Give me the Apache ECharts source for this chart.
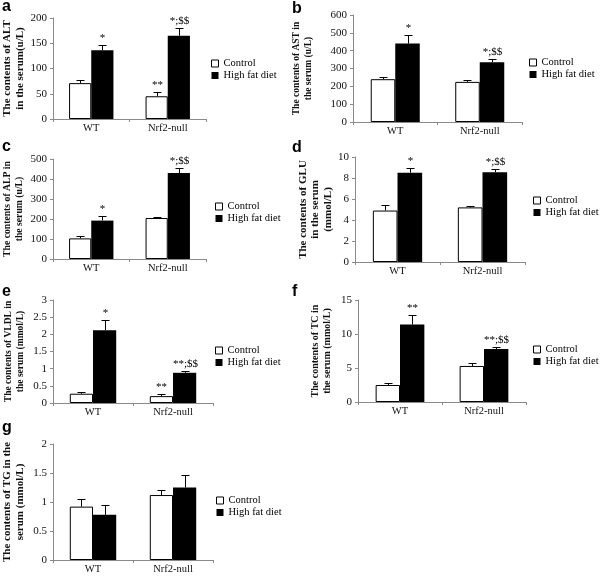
<!DOCTYPE html>
<html><head><meta charset="utf-8">
<script src="https://cdn.jsdelivr.net/npm/echarts@6/dist/echarts.min.js"></script>
<style>html,body{margin:0;padding:0;background:#fff}#c{width:600px;height:577px}</style>
</head><body><div id="c"></div>
<script>
// ---------- DATA ----------
const categories = ['WT', 'Nrf2-null'];
const seriesNames = ['Control', 'High fat diet'];

// a: ALT (u/L)
const altTicks = [0, 50, 100, 150, 200];
const altControl = [71, 45];    const altControlErr = [78, 53];
const altHFD = [136, 165];      const altHFDErr = [146, 181];
const altControlMarks = ['', '**']; const altHFDMarks = ['*', '*;$$'];

// b: AST (u/L)
const astTicks = [0, 100, 200, 300, 400, 500, 600];
const astControl = [240, 225];  const astControlErr = [253, 237];
const astHFD = [440, 335];      const astHFDErr = [490, 352];
const astControlMarks = ['', '']; const astHFDMarks = ['*', '*;$$'];

// c: ALP (u/L)
const alpTicks = [0, 100, 200, 300, 400, 500];
const alpControl = [103, 205];  const alpControlErr = [113, 211];
const alpHFD = [192, 430];      const alpHFDErr = [213, 455];
const alpControlMarks = ['', '']; const alpHFDMarks = ['*', '*;$$'];

// d: GLU (mmol/L)
const gluTicks = [0, 2, 4, 6, 8, 10];
const gluControl = [4.9, 5.2];  const gluControlErr = [5.4, 5.3];
const gluHFD = [8.5, 8.55];     const gluHFDErr = [9.0, 8.85];
const gluControlMarks = ['', '']; const gluHFDMarks = ['*', '*;$$'];

// e: VLDL (mmol/L)
const vldlTicks = [0, 0.5, 1, 1.5, 2, 2.5, 3];
const vldlControl = [0.27, 0.2]; const vldlControlErr = [0.32, 0.26];
const vldlHFD = [2.12, 0.88];    const vldlHFDErr = [2.42, 0.93];
const vldlControlMarks = ['', '**']; const vldlHFDMarks = ['*', '**;$$'];

// f: TC (mmol/L)
const tcTicks = [0, 5, 10, 15];
const tcControl = [2.5, 5.3];   const tcControlErr = [2.8, 5.7];
const tcHFD = [11.4, 7.8];      const tcHFDErr = [12.8, 8.1];
const tcControlMarks = ['', '']; const tcHFDMarks = ['**', '**;$$'];

// g: TG (mmol/L)
const tgTicks = [0, 0.5, 1, 1.5, 2];
const tgControl = [0.92, 1.12]; const tgControlErr = [1.06, 1.2];
const tgHFD = [0.78, 1.25];     const tgHFDErr = [0.94, 1.46];
const tgControlMarks = ['', '']; const tgHFDMarks = ['', ''];

const panelLetters = ['a', 'b', 'c', 'd', 'e', 'f', 'g'];
const yTitles = [
  'The contents of ALT\nin the serum(u/L)',
  'The contents of AST in\nthe serum (u/L)',
  'The contents of ALP in\nthe serum (u/L)',
  'The contents of GLU\nin the serum\n(mmol/L)',
  'The contents of VLDL in\nthe serum (mmol/L)',
  'The contents of TC in\nthe serum (mmol/L)',
  'The contents of TG in the\nserum (mmol/L)'
];

const panels = [
  {ticks: altTicks, c: altControl, ce: altControlErr, h: altHFD, he: altHFDErr, cm: altControlMarks, hm: altHFDMarks},
  {ticks: astTicks, c: astControl, ce: astControlErr, h: astHFD, he: astHFDErr, cm: astControlMarks, hm: astHFDMarks},
  {ticks: alpTicks, c: alpControl, ce: alpControlErr, h: alpHFD, he: alpHFDErr, cm: alpControlMarks, hm: alpHFDMarks},
  {ticks: gluTicks, c: gluControl, ce: gluControlErr, h: gluHFD, he: gluHFDErr, cm: gluControlMarks, hm: gluHFDMarks},
  {ticks: vldlTicks, c: vldlControl, ce: vldlControlErr, h: vldlHFD, he: vldlHFDErr, cm: vldlControlMarks, hm: vldlHFDMarks},
  {ticks: tcTicks, c: tcControl, ce: tcControlErr, h: tcHFD, he: tcHFDErr, cm: tcControlMarks, hm: tcHFDMarks},
  {ticks: tgTicks, c: tgControl, ce: tgControlErr, h: tgHFD, he: tgHFDErr, cm: tgControlMarks, hm: tgHFDMarks}
];

// ---------- LAYOUT ----------
const layout = [
  {grid: {left: 52, top: 18, width: 154, height: 101}, gap: 27, tfs: 11, legend: {left: 211, top: 58}, letter: {x: 2, y: 6.5}},
  {grid: {left: 353, top: 15, width: 169, height: 107}, gap: 38, tfs: 9.5, legend: {left: 529, top: 57}, letter: {x: 292, y: 9}},
  {grid: {left: 52, top: 159, width: 154, height: 100}, gap: 27, tfs: 9.7, legend: {left: 215, top: 201}, letter: {x: 2, y: 146.5}},
  {grid: {left: 355, top: 157, width: 170, height: 105}, gap: 21, tfs: 11, legend: {left: 533, top: 195}, letter: {x: 292, y: 147.5}},
  {grid: {left: 53, top: 300, width: 160, height: 103}, gap: 26, tfs: 9.5, legend: {left: 215, top: 345}, letter: {x: 2, y: 291.5}},
  {grid: {left: 358, top: 300, width: 168, height: 102}, gap: 24, tfs: 10, legend: {left: 533, top: 344}, letter: {x: 292, y: 292}},
  {grid: {left: 52, top: 444, width: 161, height: 116}, gap: 27, tfs: 11, legend: {left: 216, top: 495}, letter: {x: 2, y: 428}}
];

const SERIF = 'Liberation Serif';
const AXIS_COLOR = '#8a8a8a';
const GAP = 0.42;

function makeErrRender(marks, side) {
  return function (params, api) {
    const cat = api.value(0), val = api.value(1), err = api.value(2);
    const w = api.size([1, 0])[0];
    const off = side * w * (1 - GAP) / 4;
    const top = api.coord([cat, err]);
    const base = api.coord([cat, val]);
    const x = Math.round(top[0] + off) + 0.5;
    const ty = Math.round(top[1]) + 0.5;
    const children = [];
    if (err > val) {
      children.push({type: 'line', shape: {x1: x, y1: base[1], x2: x, y2: ty}, style: {stroke: '#000', lineWidth: 1}});
      children.push({type: 'line', shape: {x1: x - 4, y1: ty, x2: x + 4, y2: ty}, style: {stroke: '#000', lineWidth: 1}});
    }
    const m = marks[params.dataIndex];
    if (m) {
      children.push({type: 'text', x: x, y: ty - 2, style: {text: m, align: 'center', verticalAlign: 'bottom', fontFamily: SERIF, fontSize: 11, fill: '#000'}});
    }
    return {type: 'group', children: children};
  };
}

const grid = [], xAxis = [], yAxis = [], series = [], legend = [], graphic = [];
panels.forEach((p, i) => {
  const L = layout[i];
  grid.push(L.grid);
  xAxis.push({
    gridIndex: i, type: 'category', data: categories,
    axisLine: {show: true, lineStyle: {color: AXIS_COLOR}},
    axisTick: {show: true, length: 3, lineStyle: {color: AXIS_COLOR}},
    axisLabel: {fontFamily: SERIF, fontSize: 10.5, color: '#111', margin: 4}
  });
  const t = p.ticks;
  yAxis.push({
    gridIndex: i, type: 'value', min: t[0], max: t[t.length - 1], interval: t[1] - t[0],
    axisLine: {show: true, lineStyle: {color: AXIS_COLOR}},
    axisTick: {show: true, length: 3, lineStyle: {color: AXIS_COLOR}},
    splitLine: {show: false},
    axisLabel: {fontFamily: SERIF, fontSize: 11, color: '#111', margin: 6},
    name: yTitles[i], nameLocation: 'middle', nameRotate: 90, nameGap: L.gap,
    nameTextStyle: {fontFamily: SERIF, fontWeight: 'bold', fontSize: L.tfs, lineHeight: 12.5, color: '#111', align: 'center'}
  });
  series.push({
    name: seriesNames[0], type: 'bar', xAxisIndex: i, yAxisIndex: i, data: p.c,
    barGap: '0%', barCategoryGap: (GAP * 100) + '%',
    itemStyle: {color: '#fff', borderColor: '#000', borderWidth: 1}, silent: true
  });
  series.push({
    name: seriesNames[1], type: 'bar', xAxisIndex: i, yAxisIndex: i, data: p.h,
    barGap: '0%', barCategoryGap: (GAP * 100) + '%',
    itemStyle: {color: '#000'}, silent: true
  });
  series.push({
    type: 'custom', xAxisIndex: i, yAxisIndex: i, z: 5, silent: true,
    data: p.c.map((v, k) => [k, v, p.ce[k]]),
    renderItem: makeErrRender(p.cm, -1)
  });
  series.push({
    type: 'custom', xAxisIndex: i, yAxisIndex: i, z: 5, silent: true,
    data: p.h.map((v, k) => [k, v, p.he[k]]),
    renderItem: makeErrRender(p.hm, 1)
  });
  legend.push({
    left: L.legend.left, top: L.legend.top, orient: 'vertical', selectedMode: false,
    icon: 'rect', itemWidth: 7, itemHeight: 7, itemGap: 1, padding: 0,
    textStyle: {fontFamily: SERIF, fontSize: 10.5, color: '#000', lineHeight: 11},
    data: [
      {name: seriesNames[0], itemStyle: {color: '#fff', borderColor: '#000', borderWidth: 1}},
      {name: seriesNames[1], itemStyle: {color: '#000', borderWidth: 0}}
    ]
  });
  graphic.push({
    type: 'text', x: L.letter.x, y: L.letter.y,
    style: {text: panelLetters[i], fontFamily: 'Liberation Sans', fontWeight: 'bold', fontSize: 16, fill: '#000', verticalAlign: 'middle'}
  });
});

const chart = echarts.init(document.getElementById('c'), null, {renderer: 'canvas'});
chart.setOption({animation: false, backgroundColor: '#fff', grid, xAxis, yAxis, series, legend, graphic});
</script>
</body></html>
